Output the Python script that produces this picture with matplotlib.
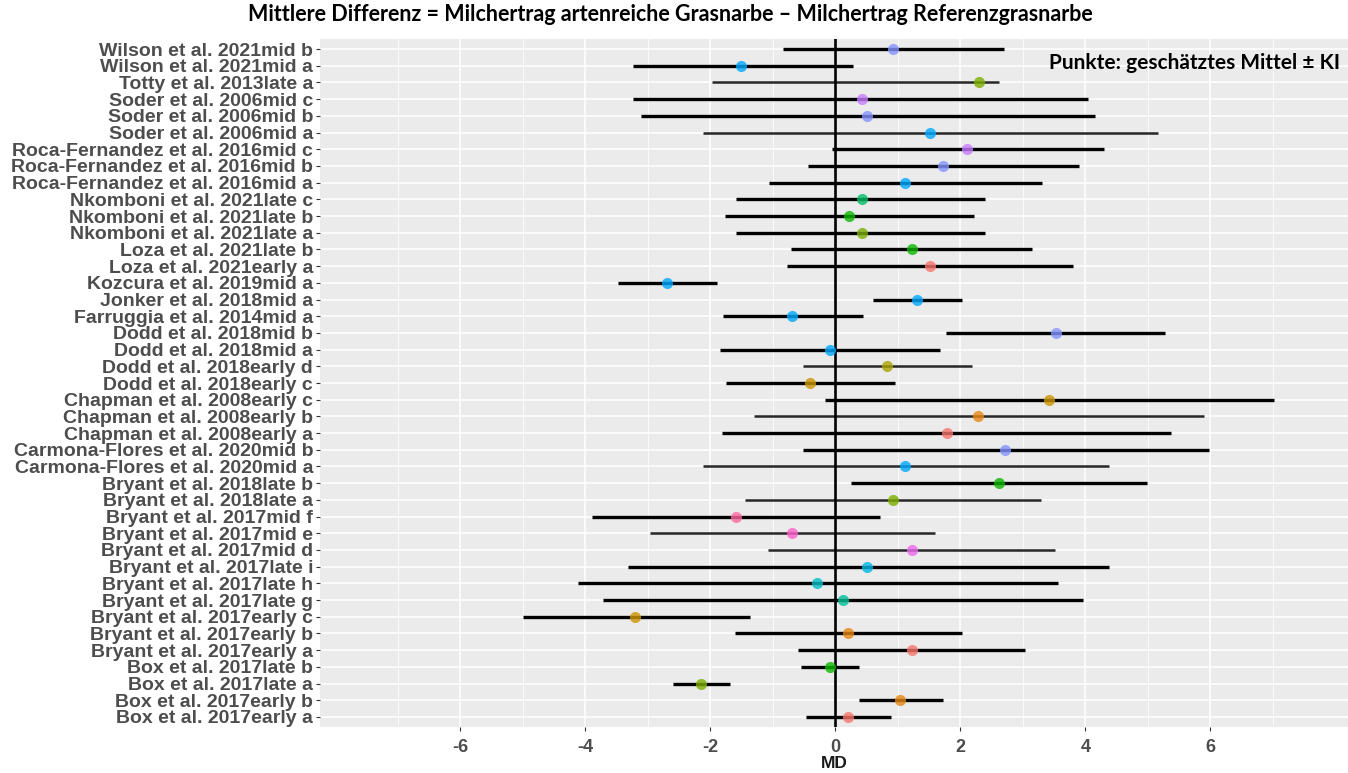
import numpy as np
import matplotlib
matplotlib.use("Agg")
import matplotlib.pyplot as plt

# data, top row first (as drawn)
studies = [
    "Wilson et al. 2021", "Wilson et al. 2021", "Totty et al. 2013",
    "Soder et al. 2006", "Soder et al. 2006", "Soder et al. 2006",
    "Roca-Fernandez et al. 2016", "Roca-Fernandez et al. 2016", "Roca-Fernandez et al. 2016",
    "Nkomboni et al. 2021", "Nkomboni et al. 2021", "Nkomboni et al. 2021",
    "Loza et al. 2021", "Loza et al. 2021", "Kozcura et al. 2019", "Jonker et al. 2018",
    "Farruggia et al. 2014", "Dodd et al. 2018", "Dodd et al. 2018", "Dodd et al. 2018",
    "Dodd et al. 2018", "Chapman et al. 2008", "Chapman et al. 2008", "Chapman et al. 2008",
    "Carmona-Flores et al. 2020", "Carmona-Flores et al. 2020",
    "Bryant et al. 2018", "Bryant et al. 2018",
    "Bryant et al. 2017", "Bryant et al. 2017", "Bryant et al. 2017",
    "Bryant et al. 2017", "Bryant et al. 2017", "Bryant et al. 2017",
    "Bryant et al. 2017", "Bryant et al. 2017", "Bryant et al. 2017",
    "Box et al. 2017", "Box et al. 2017", "Box et al. 2017", "Box et al. 2017",
]
subgroups = [
    "mid b", "mid a", "late a",
    "mid c", "mid b", "mid a",
    "mid c", "mid b", "mid a",
    "late c", "late b", "late a",
    "late b", "early a", "mid a", "mid a",
    "mid a", "mid b", "mid a", "early d",
    "early c", "early c", "early b", "early a",
    "mid b", "mid a",
    "late b", "late a",
    "mid f", "mid e", "mid d",
    "late i", "late h", "late g",
    "early c", "early b", "early a",
    "late b", "late a", "early b", "early a",
]
md = [0.92, -1.50, 2.30, 0.42, 0.51, 1.52, 2.11, 1.72, 1.12, 0.42, 0.22, 0.42,
      1.22, 1.52, -2.69, 1.31, -0.69, 3.53, -0.08, 0.83, -0.40, 3.42, 2.29, 1.78,
      2.72, 1.12, 2.62, 0.92, -1.58, -0.69, 1.22, 0.51, -0.29, 0.12, -3.20, 0.21,
      1.22, -0.08, -2.15, 1.04, 0.21]
lower = [-0.84, -3.24, -1.97, -3.23, -3.11, -2.11, -0.05, -0.43, -1.06, -1.58, -1.76, -1.58,
         -0.71, -0.77, -3.48, 0.61, -1.80, 1.77, -1.85, -0.51, -1.74, -0.16, -1.30, -1.81,
         -0.51, -2.12, 0.25, -1.45, -3.89, -2.97, -1.08, -3.32, -4.12, -3.72, -5.00, -1.60,
         -0.60, -0.54, -2.60, 0.38, -0.46]
upper = [2.70, 0.29, 2.62, 4.04, 4.15, 5.16, 4.30, 3.90, 3.30, 2.40, 2.22, 2.40,
         3.15, 3.81, -1.89, 2.02, 0.44, 5.28, 1.68, 2.19, 0.96, 7.01, 5.89, 5.37,
         5.97, 4.37, 4.99, 3.29, 0.71, 1.60, 3.52, 4.37, 3.56, 3.97, -1.36, 2.03,
         3.04, 0.38, -1.68, 1.72, 0.89]
# rows drawn with the thinner interval line
thin_rows = ["Totty et al. 2013late a", "Soder et al. 2006mid a", "Dodd et al. 2018early d",
             "Chapman et al. 2008early b", "Carmona-Flores et al. 2020mid a",
             "Bryant et al. 2018late a", "Bryant et al. 2017mid e", "Bryant et al. 2017mid d"]

x_ticks = [-6, -4, -2, 0, 2, 4, 6]


def hue_pal(n, c=100, l=65):
    # ggplot2 default discrete palette (HCL -> sRGB)
    hues = np.linspace(15, 375, n + 1)[:-1]
    Xn, Yn, Zn = 95.047, 100.0, 108.883
    un = 4 * Xn / (Xn + 15 * Yn + 3 * Zn)
    vn = 9 * Yn / (Xn + 15 * Yn + 3 * Zn)
    M = np.array([[3.240479, -1.537150, -0.498535],
                  [-0.969256, 1.875992, 0.041556],
                  [0.055648, -0.204043, 1.057311]])
    out = []
    for h in hues:
        u = c * np.cos(np.radians(h))
        v = c * np.sin(np.radians(h))
        Y = Yn * ((l + 16) / 116) ** 3
        up = u / (13 * l) + un
        vp = v / (13 * l) + vn
        X = Y * 9 * up / (4 * vp)
        Z = Y * (12 - 3 * up - 20 * vp) / (4 * vp)
        rgb = M @ (np.array([X, Y, Z]) / 100)
        rgb = np.where(rgb > 0.0031308, 1.055 * np.abs(rgb) ** (1 / 2.4) - 0.055, 12.92 * rgb)
        out.append(tuple(np.clip(rgb, 0, 1)))
    return out


labels = [s + g for s, g in zip(studies, subgroups)]
groups = sorted(set(subgroups))
pal = dict(zip(groups, hue_pal(len(groups))))

n = len(labels)
ypos = np.arange(n, 0, -1)

fig = plt.figure(figsize=(13.48, 7.73), dpi=100)
ax = fig.add_axes([320 / 1348, 46 / 773, 1 - 320 / 1348, 688 / 773])
ax.set_facecolor("#EBEBEB")

for i in range(n):
    if labels[i] in thin_rows:
        lw, col = 1.8, "#262626"
    else:
        lw, col = 2.4, "black"
    ax.plot([lower[i], upper[i]], [ypos[i], ypos[i]], color=col, lw=lw,
            solid_capstyle="butt", zorder=3)

ax.axvline(0, color="black", lw=1.9, zorder=4)

for i in range(n):
    ax.plot(md[i], ypos[i], "o", ms=8, color=pal[subgroups[i]], alpha=0.8,
            mec="none", zorder=5)

ax.set_xlim(-8.24, 8.2)
ax.set_ylim(0.4, n + 0.6)
ax.set_xticks(x_ticks)
ax.set_xticks(np.arange(-7, 8, 2), minor=True)
ax.set_xticklabels([str(t) for t in x_ticks])
ax.set_yticks(ypos)
ax.set_yticklabels(labels)

ax.grid(True, which="major", color="white", lw=1.1, zorder=0)
ax.grid(True, which="minor", axis="x", color="white", lw=0.55, zorder=0)
ax.set_axisbelow(True)
for sp in ax.spines.values():
    sp.set_visible(False)

ax.tick_params(axis="both", which="major", length=3, width=0.8, color="#333333",
               labelcolor="#4D4D4D")
ax.tick_params(axis="y", pad=2)
ax.tick_params(axis="x", pad=6)
ax.tick_params(axis="x", which="minor", length=0)
for t in ax.get_yticklabels():
    t.set_fontfamily("Liberation Sans")
    t.set_fontweight("bold")
    t.set_fontsize(14)
for t in ax.get_xticklabels():
    t.set_fontfamily("Liberation Sans")
    t.set_fontweight("bold")
    t.set_fontsize(13)

ax.set_xlabel("MD", fontfamily="Liberation Sans", fontweight="bold", fontsize=12.5,
              color="#1A1A1A", labelpad=0)

ax.text(0.851, 0.98, "Punkte: geschätztes Mittel ± KI", transform=ax.transAxes,
        ha="center", va="top", fontfamily="Lato", fontweight="bold", fontsize=15,
        color="black", zorder=6)

fig.text(0.497, 0.995, "Mittlere Differenz = Milchertrag artenreiche Grasnarbe \u2013 Milchertrag Referenzgrasnarbe",
         ha="center", va="top", fontfamily="Lato", fontweight="bold", fontsize=15.5)

fig.savefig("out.png", dpi=100)
